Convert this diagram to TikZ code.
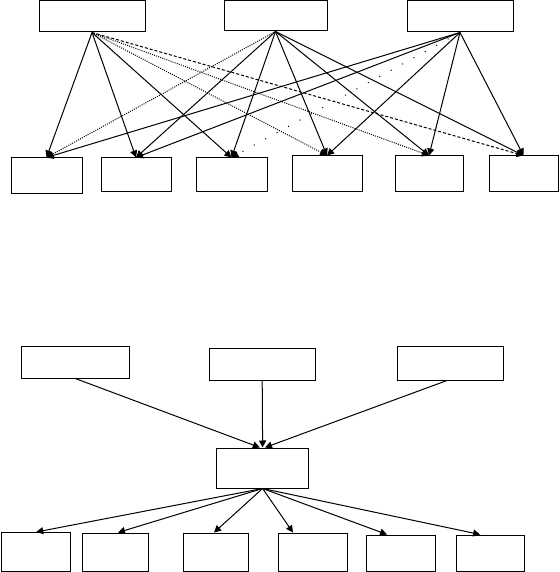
\documentclass[tikz,border=0pt]{standalone}
\usetikzlibrary{arrows.meta}
\tikzset{
  box/.style={draw,line width=0.5pt,inner sep=0pt},
  arr/.style={line width=0.5pt,-{Triangle[length=3.5pt,width=3.5pt]}},
  fine dots/.style={dash pattern=on 0.5pt off 0.6pt},
  loose dots/.style={dash pattern=on 0.5pt off 6pt},
  fine dash/.style={dash pattern=on 1.5pt off 1pt}
}
\begin{document}
\begin{tikzpicture}[x=0.5pt,y=-0.5pt]
\useasboundingbox (0,0) rectangle (559,572);
% upper diagram
\node[box,minimum width=53pt,minimum height=15.5pt] (a) at (92,16.5) {};
\node[box,minimum width=51.5pt,minimum height=15pt] (b) at (275.5,16) {};
\node[box,minimum width=53pt,minimum height=15.5pt] (c) at (460,16.5) {};
\node[box,minimum width=35.5pt,minimum height=18pt] (b1) at (46.5,176) {};
\node[box,minimum width=35pt,minimum height=17pt] (b2) at (136,175) {};
\node[box,minimum width=35.5pt,minimum height=17pt] (b3) at (231.5,175) {};
\node[box,minimum width=35pt,minimum height=18pt] (b4) at (327,174) {};
\node[box,minimum width=34pt,minimum height=18pt] (b5) at (429,174) {};
\node[box,minimum width=34.5pt,minimum height=18pt] (b6) at (523.5,174) {};
\foreach \s/\t in {a/b1,a/b2,a/b3,b/b2,b/b3,b/b4,b/b5,b/b6,c/b1,c/b2,c/b4,c/b5,c/b6}
  \draw[arr] (\s.south) -- (\t.north);
\draw[arr,fine dots] (a.south) -- (b4.north);
\draw[arr,fine dots] (a.south) -- (b5.north);
\draw[arr,fine dash] (a.south) -- (b6.north);
\draw[arr,fine dots] (b.south) -- (b1.north);
\draw[arr,loose dots] (c.south) -- (b3.north);
% lower diagram
\node[box,minimum width=53.75pt,minimum height=16pt] (s1) at (75.3,362) {};
\node[box,minimum width=52.85pt,minimum height=16pt] (s2) at (262.2,364) {};
\node[box,minimum width=53.2pt,minimum height=17pt] (s3) at (450.6,363) {};
\node[box,minimum width=46.25pt,minimum height=20pt] (m) at (262.6,468) {};
\node[box,minimum width=34.4pt,minimum height=19.5pt] (e1) at (36.2,552) {};
\node[box,minimum width=32.6pt,minimum height=19pt] (e2) at (115.4,552) {};
\node[box,minimum width=32.6pt,minimum height=19pt] (e3) at (216,552) {};
\node[box,minimum width=34.2pt,minimum height=19pt] (e4) at (313,552) {};
\node[box,minimum width=34.75pt,minimum height=18pt] (e5) at (401,553) {};
\node[box,minimum width=34.25pt,minimum height=18pt] (e6) at (490.7,553) {};
\draw[arr] (s1.south) -- ([xshift=-1.4pt]m.north);
\draw[arr] (s2.south) -- (m.north);
\draw[arr] ([xshift=-1.8pt]s3.south) -- ([xshift=1.2pt]m.north);
\draw[arr] (m.south) -- (e1.north);
\draw[arr] (m.south) -- ([xshift=1.3pt]e2.north);
\draw[arr] (m.south) -- ([xshift=-1pt]e3.north);
\draw[arr] (m.south) -- ([xshift=-10pt]e4.north);
\draw[arr] (m.south) -- ([xshift=-7pt]e5.north);
\draw[arr] (m.south) -- ([xshift=-5.3pt]e6.north);
\end{tikzpicture}
\end{document}
